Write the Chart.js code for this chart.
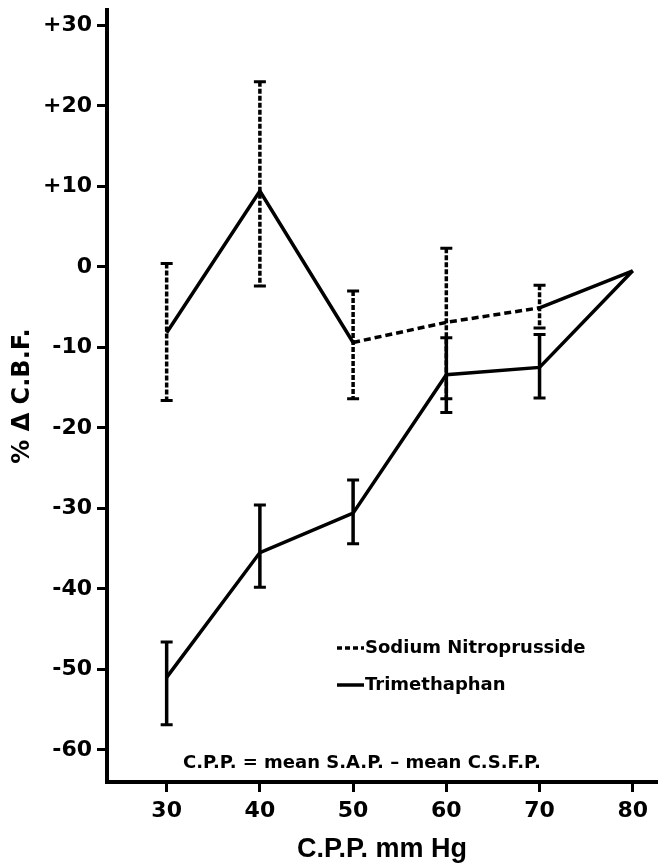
<!DOCTYPE html>
<html><head><meta charset="utf-8">
<script src="https://cdn.jsdelivr.net/npm/chart.js@4/dist/chart.umd.min.js"></script>
<style>html,body{margin:0;padding:0;background:#fff}</style>
</head><body>
<canvas id="c" width="658" height="866"></canvas>
<script>
const cpp = [30, 40, 50, 60, 70, 80];
const snMean = [-8.2, 9.4, -9.4, -6.9, -5.1, -0.5];
const snHigh = [0.4, 23.0, -3.0, 2.3, -2.3, null];
const snLow  = [-16.6, -2.4, -16.4, -16.4, -7.6, null];
const tmMean = [-51.0, -35.5, -30.6, -13.4, -12.5, -0.5];
const tmHigh = [-46.6, -29.6, -26.5, -8.8, -8.4, null];
const tmLow  = [-56.9, -39.8, -34.4, -18.1, -16.3, null];
const xTicks = [30, 40, 50, 60, 70, 80];
const yTicks = [-60, -50, -40, -30, -20, -10, 0, 10, 20, 30];
const seriesNames = ['Sodium Nitroprusside', 'Trimethaphan'];
const xTitle = 'C.P.P. mm Hg';
const yTitle = '% \u0394 C.B.F.';
const footnote = 'C.P.P. = mean S.A.P. \u2013 mean C.S.F.P.';

const errorBars = {
  id: 'errorBars',
  afterDatasetsDraw(chart) {
    const ctx = chart.ctx, xs = chart.scales.x, ys = chart.scales.y;
    chart.data.datasets.forEach(ds => {
      ctx.save();
      ctx.strokeStyle = '#000';
      cpp.forEach((v, j) => {
        if (ds.errHigh[j] == null) return;
        const px = xs.getPixelForValue(v);
        const y1 = ys.getPixelForValue(ds.errHigh[j]);
        const y2 = ys.getPixelForValue(ds.errLow[j]);
        ctx.lineWidth = 3.5;
        ctx.setLineDash(ds.barDash);
        ctx.beginPath(); ctx.moveTo(px, y1); ctx.lineTo(px, y2); ctx.stroke();
        ctx.setLineDash([]);
        ctx.lineWidth = 3;
        ctx.beginPath();
        ctx.moveTo(px - 6, y1); ctx.lineTo(px + 6, y1);
        ctx.moveTo(px - 6, y2); ctx.lineTo(px + 6, y2);
        ctx.stroke();
      });
      ctx.restore();
    });
  }
};

const notes = {
  id: 'notes',
  afterDraw(chart) {
    const ctx = chart.ctx;
    ctx.save();
    ctx.fillStyle = '#000';
    ctx.strokeStyle = '#000';
    ctx.lineWidth = 3.5;
    ctx.font = 'bold 18px "DejaVu Sans"';
    ctx.textBaseline = 'middle';
    ctx.textAlign = 'left';
    ctx.setLineDash([5, 3]);
    ctx.beginPath(); ctx.moveTo(337, 648); ctx.lineTo(364, 648); ctx.stroke();
    ctx.setLineDash([]);
    ctx.beginPath(); ctx.moveTo(337, 685); ctx.lineTo(364, 685); ctx.stroke();
    ctx.fillText(seriesNames[0], 365, 648);
    ctx.fillText(seriesNames[1], 365, 685);
    ctx.fillText(footnote, 183, 763);
    ctx.restore();
  }
};

new Chart(document.getElementById('c'), {
  type: 'line',
  data: {
    datasets: [
      {
        label: seriesNames[0],
        data: cpp.map((x, i) => ({x, y: snMean[i]})),
        errHigh: snHigh, errLow: snLow, barDash: [5, 2],
        borderColor: '#000', borderWidth: 3.5, pointRadius: 0, tension: 0,
        segment: { borderDash: c => (c.p0DataIndex === 2 || c.p0DataIndex === 3) ? [7, 4] : [] }
      },
      {
        label: seriesNames[1],
        data: cpp.map((x, i) => ({x, y: tmMean[i]})),
        errHigh: tmHigh, errLow: tmLow, barDash: [],
        borderColor: '#000', borderWidth: 3.5, pointRadius: 0, tension: 0
      }
    ]
  },
  options: {
    responsive: false,
    animation: false,
    devicePixelRatio: 1,
    layout: { padding: { top: 10, right: 1, left: 0, bottom: 0 } },
    plugins: { legend: { display: false }, tooltip: { enabled: false } },
    scales: {
      x: {
        type: 'linear', min: 23.6, max: 82.6,
        afterFit: s => { s.height = 84; s.paddingLeft = 0; s.paddingRight = 0; },
        afterBuildTicks: s => { s.ticks = xTicks.map(v => ({value: v})); },
        grid: { drawOnChartArea: false, drawTicks: true, tickLength: 10, color: '#000', lineWidth: 3 },
        border: { display: true, color: '#000', width: 4 },
        ticks: { color: '#000', padding: 6, font: { family: 'DejaVu Sans', size: 22, weight: 'bold' }, maxRotation: 0 },
        title: { display: true, text: xTitle, color: '#000', padding: 0, font: { family: 'Liberation Sans', size: 27, weight: 'bold' } }
      },
      y: {
        type: 'linear', min: -64, max: 31.9,
        afterFit: s => { s.width = 107; s.paddingTop = 0; s.paddingBottom = 0; },
        afterBuildTicks: s => { s.ticks = yTicks.map(v => ({value: v})); },
        grid: { drawOnChartArea: false, drawTicks: true, tickLength: 10, color: '#000', lineWidth: 3 },
        border: { display: true, color: '#000', width: 4 },
        ticks: { color: '#000', padding: 5, font: { family: 'DejaVu Sans', size: 22, weight: 'bold' },
          callback: v => (v > 0 ? '+' + v : String(v)) },
        title: { display: true, text: yTitle, color: '#000', padding: { top: 8, bottom: 0 }, font: { family: 'DejaVu Sans', size: 24, weight: 'bold' } }
      }
    }
  },
  plugins: [errorBars, notes]
});
</script>
</body></html>
